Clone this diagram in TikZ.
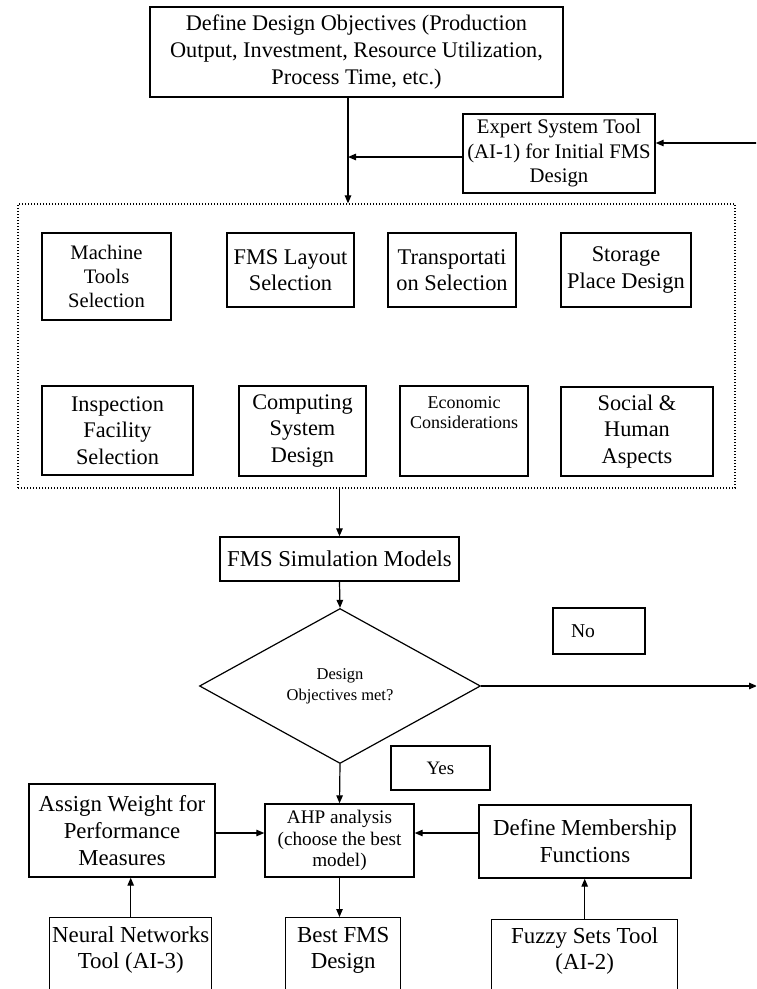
\documentclass[tikz,border=0pt]{standalone}
\usepackage{fontspec}
\setmainfont{Liberation Serif}
\usetikzlibrary{arrows.meta,shapes.geometric}

\newcommand{\fsz}[2]{\fontsize{#1pt}{#2pt}\selectfont}

\tikzset{
  basebox/.style={draw, line width=1.4pt, inner sep=0pt, font=\fsz{22.4}{26.5}},
  box/.style={basebox, align=center},
  arr/.style={line width=1.2pt, -{Triangle[length=8pt,width=6.5pt]}},
  grp/.style={draw, line width=1.3pt, dash pattern=on 1.2pt off 1.8pt, inner sep=0pt},
}

\begin{document}
\begin{tikzpicture}[x=1pt,y=1pt]
\useasboundingbox (0,0) rectangle (756,-989);
\clip (0,0) rectangle (756,-989);

% design objectives and the expert system feeding the initial design
\node[box, minimum width=413pt, minimum height=90pt, font=\fsz{22.3}{27}] (obj) at (356.5,-52)
  {Define Design Objectives (Production\\Output, Investment, Resource Utilization,\\Process Time, etc.)};
\node[box, minimum width=192pt, minimum height=79pt, font=\fsz{20.7}{24.5}] (expert) at (559,-153.5)
  {Expert System Tool\\(AI-1) for Initial FMS\\Design};

% group of design sub-tasks
\node[grp, minimum width=717pt, minimum height=284pt] (grp) at (376.5,-346) {};

\node[box, minimum width=129pt, minimum height=87pt, font=\fsz{20.6}{24}] (machine) at (106.5,-276.5)
  {Machine\\Tools\\Selection};
\node[box, minimum width=127pt, minimum height=74pt] (layout) at (290.5,-270)
  {FMS Layout\\Selection};
\node[box, minimum width=128pt, minimum height=74pt] (transport) at (452,-270)
  {Transportati\\on Selection};
\node[box, minimum width=130pt, minimum height=74pt] (storage) at (626,-270)
  {Storage\\Place Design};

\node[box, minimum width=151pt, minimum height=89pt, font=\fsz{22.3}{26.5}] (inspect) at (117.5,-430.5)
  {Inspection\\Facility\\Selection};
\node[box, minimum width=127pt, minimum height=90pt, font=\fsz{22.3}{26.5}] (computing) at (302.5,-431)
  {Computing\\System\\Design};
\node[basebox, font=\fsz{18}{20}] (economic) at (464,-431)
  {\parbox[c][90pt][t]{128pt}{\centering\vspace*{8pt}\strut Economic\\\strut Considerations}};
\node[box, minimum width=152pt, minimum height=89pt, font=\fsz{22.3}{26.5}] (social) at (637,-431.5)
  {Social \&\\Human\\Aspects};

% simulation and decision
\node[box, minimum width=239pt, minimum height=44pt, font=\fsz{22.7}{26}] (sim) at (339.5,-559)
  {FMS Simulation Models};
\node[draw, diamond, line width=1.2pt, inner sep=0pt, minimum width=281pt, minimum height=155pt,
      align=center, font=\fsz{16.5}{21}] (dia) at (340,-686)
  {Design\\Objectives met?};
\node[basebox, minimum width=92pt, minimum height=46pt, font=\fsz{19.6}{23}] (no) at (599,-631)
  {\makebox[92pt][l]{\hspace{18pt}No}};
\node[box, minimum width=99pt, minimum height=44pt, font=\fsz{19}{23}] (yes) at (440.5,-768)
  {Yes};

% selection of the best model
\node[box, minimum width=149pt, minimum height=73pt, font=\fsz{19.2}{21.5}] (ahp) at (339.5,-840.5)
  {AHP analysis\\(choose the best\\model)};
\node[box, minimum width=186pt, minimum height=93pt, font=\fsz{22.8}{27}] (assign) at (122,-830.5)
  {Assign Weight for\\Performance\\Measures};
\node[box, minimum width=212pt, minimum height=73pt, font=\fsz{22.9}{27}] (member) at (585,-841.5)
  {Define Membership\\Functions};

\node[basebox, anchor=north west, font=\fsz{22.9}{26}] (neural) at (49,-917)
  {\parbox[t][83pt][t]{162pt}{\centering\vspace*{6.8pt}\strut Neural Networks\\\strut Tool (AI-3)}};
\node[basebox, anchor=north west, font=\fsz{22.9}{26}] (best) at (285,-917)
  {\parbox[t][83pt][t]{115pt}{\centering\vspace*{6.8pt}\strut Best FMS\\\strut Design}};
\node[basebox, anchor=north west, font=\fsz{22.9}{26}] (fuzzy) at (491,-919)
  {\parbox[t][83pt][t]{186pt}{\centering\vspace*{6pt}\strut Fuzzy Sets Tool\\\strut (AI-2)}};

% connectors
\coordinate (j1) at (348,-157);
\coordinate (inR) at (762,-143);
\coordinate (outR) at (757,-686);
\coordinate (ym) at (0,-833);

\draw[line width=1.2pt] (obj.south -| j1) -- (j1);
\draw[arr] (j1) -- (j1 |- grp.north);
\draw[arr] (expert.west |- j1) -- (j1);
\draw[arr] (inR) -- (expert.east |- inR);

\draw[arr] (sim.north |- grp.south) -- (sim.north);
\draw[arr] (sim.south) -- (dia.north);
\draw[arr] (dia.east) -- (outR);
\draw[arr] (dia.south) -- (ahp.north);

\draw[arr] (assign.east |- ym) -- (ahp.west |- ym);
\draw[arr] (member.west |- ym) -- (ahp.east |- ym);
\draw[arr] (neural.north) -- (neural.north |- assign.south);
\draw[arr] (fuzzy.north) -- (fuzzy.north |- member.south);
\draw[arr] (ahp.south) -- (ahp.south |- best.north);
\end{tikzpicture}
\end{document}
